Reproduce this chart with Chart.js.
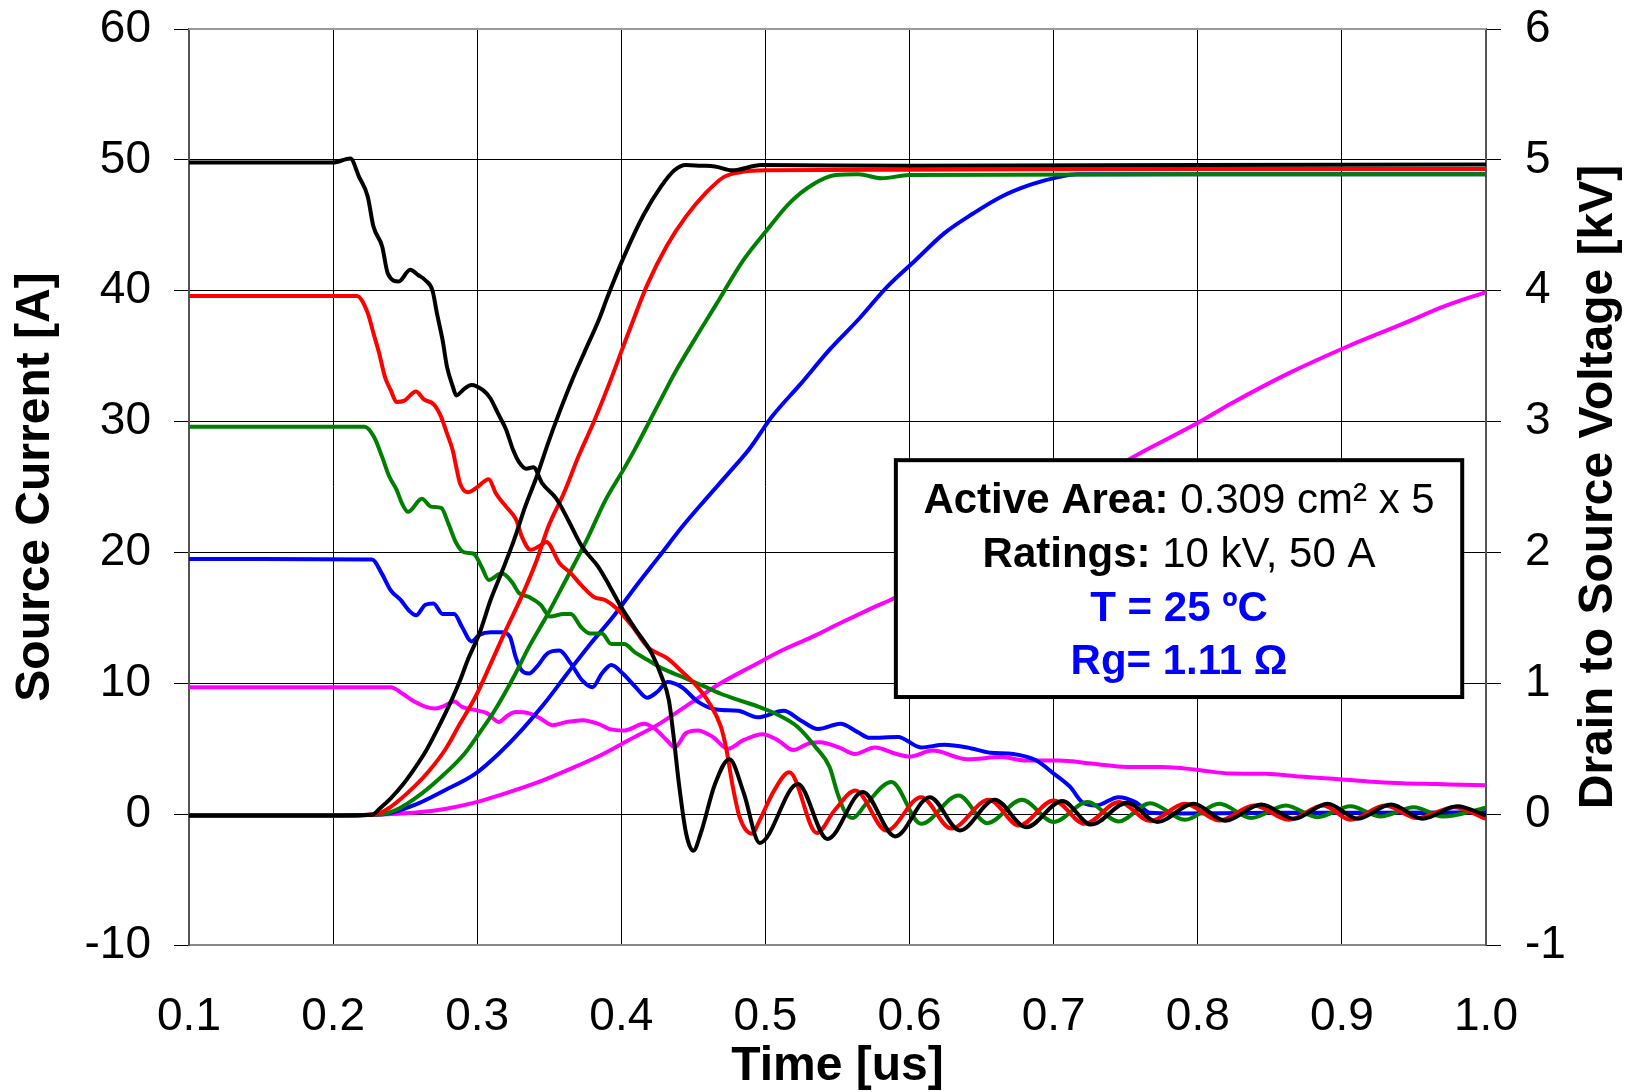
<!DOCTYPE html>
<html>
<head>
<meta charset="utf-8">
<title>Source current and drain to source voltage</title>
<script src="https://cdn.jsdelivr.net/npm/chart.js@4.4.1/dist/chart.umd.min.js"></script>
<style>
  html, body { margin: 0; padding: 0; background: #fff; }
  #chart { display: block; }
</style>
</head>
<body>
<canvas id="chart" width="1636" height="1092"></canvas>
<script>
// axis ticks
const timeTicks = [0.1, 0.2, 0.3, 0.4, 0.5, 0.6, 0.7, 0.8, 0.9, 1.0];
const currentTicks = [-10, 0, 10, 20, 30, 40, 50, 60];
const voltageTicks = [-1, 0, 1, 2, 3, 4, 5, 6];

// source current [A]  -- [time us, value]
const currentBlack = [
  [0.100, 49.8], [0.150, 49.8], [0.200, 49.8], [0.212, 50.1], [0.218, 48.7], [0.224, 47.2],
  [0.228, 44.9], [0.234, 43.4], [0.238, 41.3], [0.2455, 40.7], [0.2535, 41.6], [0.259, 41.2],
  [0.264, 40.8], [0.269, 40.0], [0.272, 38.3], [0.276, 36.2], [0.279, 34.2], [0.283, 32.7],
  [0.2855, 32.0], [0.291, 32.5], [0.296, 32.8], [0.304, 32.4], [0.309, 31.8], [0.3145, 30.6],
  [0.320, 29.4], [0.325, 27.8], [0.329, 26.9], [0.334, 26.4], [0.339, 26.5], [0.345, 25.3],
  [0.355, 24.1], [0.363, 22.5], [0.373, 20.4], [0.384, 18.9], [0.392, 17.4], [0.400, 15.8],
  [0.410, 14.1], [0.421, 12.3], [0.428, 10.5], [0.433, 8.7], [0.436, 6.2], [0.440, 2.3],
  [0.445, -1.5], [0.450, -2.8], [0.455, -1.5], [0.465, 2.3], [0.475, 4.2], [0.485, 1.6],
  [0.496, -2.2], [0.5225, 2.3], [0.543, -1.9], [0.5675, 1.7], [0.590, -1.7], [0.614, 1.3],
  [0.635, -1.25], [0.659, 1.1], [0.681, -1.0], [0.706, 1.0], [0.726, -0.8], [0.751, 0.87],
  [0.772, -0.6], [0.797, 0.8], [0.819, -0.5], [0.844, 0.74], [0.867, -0.35], [0.890, 0.8],
  [0.911, -0.35], [0.934, 0.74], [0.956, -0.35], [0.980, 0.6], [1.000, -0.1]
];
const currentRed = [
  [0.100, 39.6], [0.150, 39.6], [0.2165, 39.6], [0.224, 38.3], [0.228, 36.75], [0.232, 35.2],
  [0.236, 33.4], [0.240, 32.4], [0.244, 31.5], [0.2495, 31.6], [0.2575, 32.3], [0.263, 31.7],
  [0.270, 31.3], [0.2748, 30.4], [0.279, 29.1], [0.283, 27.8], [0.2855, 26.5], [0.288, 25.3],
  [0.2935, 24.6], [0.299, 24.9], [0.308, 25.6], [0.313, 24.5], [0.320, 23.5], [0.327, 22.5],
  [0.331, 21.2], [0.337, 20.2], [0.344, 20.55], [0.348, 20.8], [0.357, 19.2], [0.365, 18.4],
  [0.373, 17.4], [0.381, 16.6], [0.389, 16.35], [0.397, 15.7], [0.408, 14.3], [0.418, 12.8],
  [0.432, 11.9], [0.442, 10.9], [0.453, 9.7], [0.461, 8.5], [0.469, 6.7], [0.473, 4.9],
  [0.477, 2.3], [0.482, -0.2], [0.491, -1.5], [0.495, -0.7], [0.506, 1.8], [0.5166, 3.2],
  [0.5357, -1.45], [0.548, 0.3], [0.5624, 1.8], [0.584, -1.25], [0.608, 1.3], [0.629, -1.1],
  [0.655, 1.1], [0.676, -0.87], [0.700, 1.05], [0.7215, -0.74], [0.7454, 0.92], [0.767, -0.53],
  [0.791, 0.79], [0.815, -0.48], [0.839, 0.66], [0.863, -0.43], [0.887, 0.66], [0.906, -0.43],
  [0.930, 0.66], [0.952, -0.3], [0.978, 0.53], [1.000, -0.36]
];
const currentGreen = [
  [0.100, 29.6], [0.150, 29.6], [0.2218, 29.6], [0.2285, 28.8], [0.234, 27.3], [0.239, 25.8],
  [0.244, 24.8], [0.248, 23.7], [0.252, 23.1], [0.2616, 24.1], [0.268, 23.5], [0.275, 23.4],
  [0.280, 22.2], [0.2855, 20.7], [0.291, 20.0], [0.2975, 19.9], [0.303, 18.9], [0.308, 17.9],
  [0.317, 18.4], [0.324, 17.75], [0.329, 16.9], [0.336, 16.6], [0.344, 16.0], [0.3506, 15.1],
  [0.360, 15.3], [0.365, 15.3], [0.372, 14.3], [0.3785, 13.8], [0.3865, 13.8], [0.393, 13.0],
  [0.402, 13.0], [0.409, 12.4], [0.418, 11.8], [0.429, 11.1], [0.442, 10.5], [0.4555, 9.86],
  [0.469, 9.2], [0.482, 8.7], [0.4955, 8.2], [0.5086, 7.6], [0.522, 6.7], [0.535, 5.1],
  [0.5445, 3.6], [0.550, 1.6], [0.555, 0.2], [0.5605, -0.3], [0.570, 0.8], [0.5874, 2.45],
  [0.608, -0.74], [0.634, 1.43], [0.654, -0.69], [0.678, 1.1], [0.700, -0.6], [0.7235, 0.92],
  [0.745, -0.56], [0.767, 0.84], [0.791, -0.43], [0.815, 0.79], [0.837, -0.3], [0.861, 0.66],
  [0.883, -0.23], [0.906, 0.61], [0.9265, -0.18], [0.950, 0.53], [0.970, -0.18], [1.000, 0.5]
];
const currentBlue = [
  [0.100, 19.5], [0.150, 19.5], [0.227, 19.46], [0.2337, 18.4], [0.240, 17.1], [0.247, 16.35],
  [0.2523, 15.6], [0.2576, 15.2], [0.264, 16.0], [0.2696, 16.1], [0.276, 15.3], [0.284, 15.3],
  [0.2895, 14.3], [0.296, 13.2], [0.3015, 13.7], [0.3094, 13.9], [0.3174, 13.9], [0.3227, 13.55],
  [0.3267, 12.0], [0.3307, 11.0], [0.336, 10.75], [0.3413, 11.26], [0.349, 12.3], [0.357, 12.5],
  [0.365, 11.5], [0.373, 10.2], [0.380, 9.7], [0.3865, 10.75], [0.393, 11.4], [0.401, 10.75],
  [0.410, 9.7], [0.418, 8.9], [0.425, 9.35], [0.432, 10.1], [0.442, 9.7], [0.453, 8.6],
  [0.466, 8.0], [0.481, 7.9], [0.4947, 7.4], [0.5126, 7.9], [0.5245, 7.16], [0.5365, 6.5],
  [0.552, 6.9], [0.564, 6.27], [0.5723, 5.83], [0.592, 5.9], [0.608, 5.1], [0.624, 5.3],
  [0.640, 5.1], [0.656, 4.7], [0.672, 4.6], [0.688, 4.1], [0.700, 3.1], [0.7116, 2.06],
  [0.720, 0.9], [0.7295, 0.66], [0.745, 1.3], [0.757, 0.9], [0.767, 0.1], [0.783, 0.05],
  [0.850, 0.1], [0.920, 0.1], [1.000, 0.15]
];
const currentMagenta = [
  [0.100, 9.7], [0.150, 9.7], [0.240, 9.7], [0.2483, 9.2], [0.2563, 8.6], [0.2643, 8.2],
  [0.271, 8.07], [0.2776, 8.3], [0.284, 8.6], [0.2895, 8.2], [0.299, 7.95], [0.307, 7.7],
  [0.315, 7.05], [0.3214, 7.56], [0.3267, 7.8], [0.336, 7.7], [0.344, 7.3], [0.352, 6.8],
  [0.3625, 7.05], [0.373, 7.18], [0.384, 6.9], [0.392, 6.5], [0.4024, 6.4], [0.4157, 6.9],
  [0.4236, 6.5], [0.4316, 5.65], [0.437, 5.1], [0.4449, 6.2], [0.453, 6.4], [0.4635, 5.9],
  [0.474, 5.0], [0.4847, 5.65], [0.498, 6.1], [0.5086, 5.65], [0.5193, 4.9], [0.530, 5.4],
  [0.538, 5.5], [0.551, 5.1], [0.562, 4.6], [0.576, 5.1], [0.591, 4.6], [0.600, 4.4],
  [0.616, 4.86], [0.640, 4.2], [0.664, 4.36], [0.680, 4.1], [0.7036, 4.1], [0.7275, 3.85],
  [0.751, 3.6], [0.775, 3.6], [0.799, 3.4], [0.823, 3.1], [0.847, 3.08], [0.871, 2.88],
  [0.894, 2.7], [0.918, 2.5], [0.942, 2.37], [0.966, 2.3], [1.000, 2.2]
];

// drain to source voltage [kV]
const voltageBlack = [
  [0.100, -0.01], [0.200, -0.01], [0.227, -0.005], [0.2324, 0.043], [0.240, 0.12], [0.248, 0.22],
  [0.256, 0.34], [0.2643, 0.48], [0.272, 0.64], [0.280, 0.82], [0.288, 1.02], [0.2935, 1.18],
  [0.3015, 1.38], [0.3094, 1.64], [0.3174, 1.86], [0.3254, 2.09], [0.3333, 2.35], [0.3413, 2.58],
  [0.349, 2.83], [0.357, 3.07], [0.366, 3.32], [0.3744, 3.53], [0.3852, 3.80], [0.3903, 3.95],
  [0.4022, 4.27], [0.4155, 4.58], [0.4275, 4.795], [0.4368, 4.92], [0.4448, 4.96], [0.455, 4.955],
  [0.465, 4.95], [0.477, 4.92], [0.497, 4.96], [0.600, 4.955], [0.800, 4.96], [1.000, 4.965]
];
const voltageRed = [
  [0.100, -0.01], [0.200, -0.01], [0.230, 0.0], [0.240, 0.056], [0.2563, 0.21], [0.267, 0.336],
  [0.2776, 0.49], [0.288, 0.69], [0.2988, 0.897], [0.3094, 1.15], [0.320, 1.41], [0.3307, 1.66],
  [0.3413, 1.94], [0.3493, 2.196], [0.360, 2.45], [0.3705, 2.74], [0.381, 3.0], [0.3916, 3.29],
  [0.405, 3.68], [0.4182, 4.05], [0.4314, 4.34], [0.4448, 4.566], [0.458, 4.74], [0.4713, 4.87],
  [0.4852, 4.91], [0.500, 4.92], [0.600, 4.925], [0.800, 4.93], [1.000, 4.93]
];
const voltageGreen = [
  [0.100, -0.01], [0.200, -0.01], [0.234, 0.0], [0.2457, 0.043], [0.2616, 0.158], [0.2776, 0.31],
  [0.291, 0.46], [0.3015, 0.62], [0.312, 0.79], [0.3254, 1.05], [0.336, 1.28], [0.349, 1.53],
  [0.3625, 1.81], [0.3758, 2.09], [0.389, 2.40], [0.4024, 2.65], [0.409, 2.78], [0.427, 3.16],
  [0.437, 3.37], [0.451, 3.63], [0.465, 3.88], [0.4848, 4.235], [0.5008, 4.46], [0.5167, 4.67],
  [0.5326, 4.81], [0.5486, 4.884], [0.5645, 4.89], [0.5805, 4.86], [0.600, 4.884], [0.800, 4.89],
  [1.000, 4.89]
];
const voltageBlue = [
  [0.100, -0.01], [0.200, -0.01], [0.235, 0.0], [0.2563, 0.069], [0.2776, 0.183], [0.2988, 0.31],
  [0.3147, 0.46], [0.3307, 0.64], [0.3466, 0.845], [0.3625, 1.075], [0.3785, 1.30], [0.3944, 1.51],
  [0.410, 1.74], [0.4263, 1.97], [0.4422, 2.196], [0.458, 2.40], [0.474, 2.60], [0.4888, 2.79],
  [0.5047, 3.04], [0.5246, 3.29], [0.5445, 3.55], [0.5645, 3.78], [0.5844, 4.03], [0.6043, 4.235],
  [0.6242, 4.44], [0.6441, 4.59], [0.664, 4.72], [0.684, 4.81], [0.7039, 4.87], [0.716, 4.89],
  [0.800, 4.89], [1.000, 4.89]
];
const voltageMagenta = [
  [0.100, -0.01], [0.200, -0.01], [0.238, 0.0], [0.256, 0.01], [0.2776, 0.04], [0.2988, 0.09],
  [0.320, 0.16], [0.3413, 0.24], [0.3625, 0.336], [0.3838, 0.44], [0.405, 0.565], [0.4263, 0.69],
  [0.4475, 0.845], [0.4688, 1.0], [0.490, 1.126], [0.5113, 1.25], [0.5325, 1.355], [0.5538, 1.47],
  [0.575, 1.58], [0.591, 1.66], [0.620, 1.85], [0.660, 2.1], [0.700, 2.37], [0.730, 2.57],
  [0.7637, 2.78], [0.7995, 2.987], [0.8235, 3.14], [0.8633, 3.37], [0.9031, 3.57], [0.943, 3.75],
  [0.9709, 3.88], [1.000, 3.99]
];

const FONT = "'Liberation Sans', Arial, Helvetica, sans-serif";

function toPoints(rows) {
  return rows.map(r => ({ x: r[0], y: r[1] }));
}

function trace(label, rows, color, axis) {
  return {
    label: label,
    data: toPoints(rows),
    yAxisID: axis,
    borderColor: color,
    backgroundColor: color,
    borderWidth: 4,
    pointRadius: 0,
    fill: false,
    cubicInterpolationMode: 'monotone'
  };
}

// vertical axes: no extra room for the end labels, the chart area sits where the layout says
function noEndPadding(s) {
  s.paddingTop = 0;
  s.paddingBottom = 0;
}

// top border, right axis title and the info box
const extrasPlugin = {
  id: 'extras',
  afterDraw(chart) {
    const ctx = chart.ctx;
    const area = chart.chartArea;
    const xs = chart.scales.x;
    const ys = chart.scales.y;

    ctx.save();
    ctx.strokeStyle = '#999';
    ctx.lineWidth = 2;
    ctx.beginPath();
    ctx.moveTo(area.left, area.top);
    ctx.lineTo(area.right, area.top);
    ctx.stroke();

    // right title reads bottom to top
    ctx.translate(1599, (area.top + area.bottom) / 2);
    ctx.rotate(-Math.PI / 2);
    ctx.font = 'bold 48px ' + FONT;
    ctx.fillStyle = '#000';
    ctx.textAlign = 'center';
    ctx.textBaseline = 'middle';
    ctx.fillText('Drain to Source Voltage [kV]', 0, 0);
    ctx.restore();

    // info box
    const x0 = xs.getPixelForValue(0.5905);
    const x1 = xs.getPixelForValue(0.9835);
    const y0 = ys.getPixelForValue(27.05);
    const y1 = ys.getPixelForValue(8.95);
    ctx.save();
    ctx.fillStyle = '#fff';
    ctx.fillRect(x0, y0, x1 - x0, y1 - y0);
    ctx.strokeStyle = '#000';
    ctx.lineWidth = 4;
    ctx.strokeRect(x0, y0, x1 - x0, y1 - y0);

    const lines = [
      { dy: 53, parts: [['Active Area:', true, '#000'], [' 0.309 cm\u00B2 x 5', false, '#000']] },
      { dy: 107, parts: [['Ratings:', true, '#000'], [' 10 kV, 50 A', false, '#000']] },
      { dy: 161, parts: [['T = 25 \u00BAC', true, '#0000ff']] },
      { dy: 214, parts: [['Rg= 1.11 \u03A9', true, '#0000ff']] }
    ];
    const cx = (x0 + x1) / 2;
    ctx.textBaseline = 'alphabetic';
    ctx.textAlign = 'left';
    lines.forEach(l => {
      let total = 0;
      l.parts.forEach(p => {
        ctx.font = (p[1] ? 'bold ' : '') + '42px ' + FONT;
        total += ctx.measureText(p[0]).width;
      });
      let x = cx - total / 2;
      l.parts.forEach(p => {
        ctx.font = (p[1] ? 'bold ' : '') + '42px ' + FONT;
        ctx.fillStyle = p[2];
        ctx.fillText(p[0], x, y0 + l.dy);
        x += ctx.measureText(p[0]).width;
      });
    });
    ctx.restore();
  }
};

const ctx = document.getElementById('chart').getContext('2d');
new Chart(ctx, {
  type: 'line',
  data: {
    datasets: [
      trace('I black', currentBlack, '#000000', 'y'),
      trace('V black', voltageBlack, '#000000', 'y1'),
      trace('I red', currentRed, '#ff0000', 'y'),
      trace('V red', voltageRed, '#ff0000', 'y1'),
      trace('I green', currentGreen, '#008000', 'y'),
      trace('V green', voltageGreen, '#008000', 'y1'),
      trace('I blue', currentBlue, '#0000ff', 'y'),
      trace('V blue', voltageBlue, '#0000ff', 'y1'),
      trace('I magenta', currentMagenta, '#ff00ff', 'y'),
      trace('V magenta', voltageMagenta, '#ff00ff', 'y1')
    ]
  },
  options: {
    responsive: false,
    animation: false,
    devicePixelRatio: 1,
    layout: { padding: { top: 29, left: 0, right: 0, bottom: 0 } },
    plugins: { legend: { display: false }, tooltip: { enabled: false } },
    scales: {
      x: {
        type: 'linear',
        min: 0.1,
        max: 1.0,
        afterBuildTicks: s => { s.ticks = timeTicks.map(v => ({ value: v })); },
        afterFit: s => { s.height = 147; s.paddingLeft = 0; s.paddingRight = 0; },
        grid: { color: '#000', lineWidth: 1, drawTicks: false },
        border: { color: '#888', width: 2 },
        ticks: { padding: 45, color: '#000', font: { family: FONT, size: 46 }, callback: v => v.toFixed(1), maxRotation: 0 },
        title: { display: true, text: 'Time [us]', color: '#000', font: { family: FONT, size: 48, weight: 'bold' }, padding: { top: 0, bottom: -4 } }
      },
      y: {
        position: 'left',
        min: -10,
        max: 60,
        afterBuildTicks: s => { s.ticks = currentTicks.map(v => ({ value: v })); },
        afterFit: s => { s.width = 189; noEndPadding(s); },
        grid: { color: '#000', lineWidth: 1, drawTicks: true, tickLength: 15 },
        border: { color: '#555', width: 2 },
        ticks: { padding: 23, color: '#000', font: { family: FONT, size: 46 } },
        title: { display: true, text: 'Source Current [A]', color: '#000', font: { family: FONT, size: 48, weight: 'bold' }, padding: { top: 7, bottom: 0 } }
      },
      y1: {
        position: 'right',
        min: -1,
        max: 6,
        afterBuildTicks: s => { s.ticks = voltageTicks.map(v => ({ value: v })); },
        afterFit: s => { s.width = 150; noEndPadding(s); },
        grid: { drawOnChartArea: false, color: '#000', lineWidth: 1, drawTicks: true, tickLength: 15 },
        border: { color: '#555', width: 2 },
        ticks: { padding: 24, color: '#000', font: { family: FONT, size: 46 } }
      }
    }
  },
  plugins: [extrasPlugin]
});
</script>
</body>
</html>
